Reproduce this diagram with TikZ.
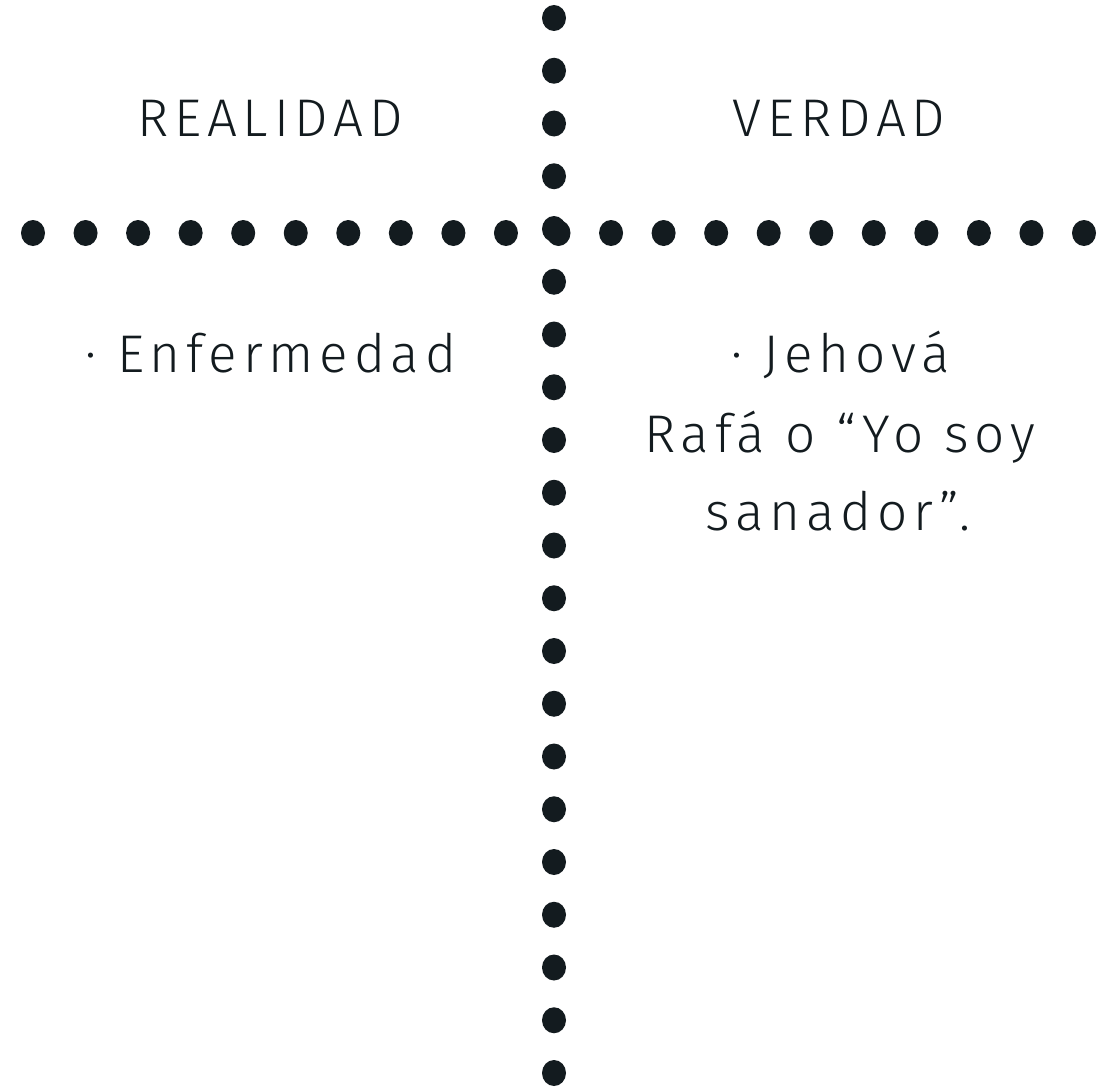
\documentclass[tikz,border=0pt]{standalone}
\usepackage{fontspec}
\setmainfont{Fira Sans}[UprightFont=* Light, LetterSpace=11]
\definecolor{ink}{HTML}{131B1F}
\begin{document}
\begin{tikzpicture}[x=1pt,y=-1pt,
  lbl/.style={text=ink,anchor=base,inner sep=0pt,font=\fontsize{53}{79}\selectfont}]
\useasboundingbox (0,0) rectangle (1102,1089);
% horizontal dotted line
\foreach \i in {0,...,20}
  \fill[ink] ({33+52.55*\i},233) ellipse [x radius=12, y radius=13];
% vertical dotted line
\foreach \j in {0,...,20}
  \fill[ink] (554,{18+52.75*\j}) ellipse [x radius=12, y radius=13];
\node[lbl] (real) at (270,136) {REALIDAD};
\node[lbl] (verd) at (839,136) {VERDAD};
\node[lbl] (enf) at (271,372) {· Enfermedad};
\node[lbl] (jeh) at (841,372) {· Jehová};
\node[lbl] (rafa) at (840,452) {Rafá o “Yo soy};
\node[lbl] (sana) at (838,530) {sanador”.};
\end{tikzpicture}
\end{document}
